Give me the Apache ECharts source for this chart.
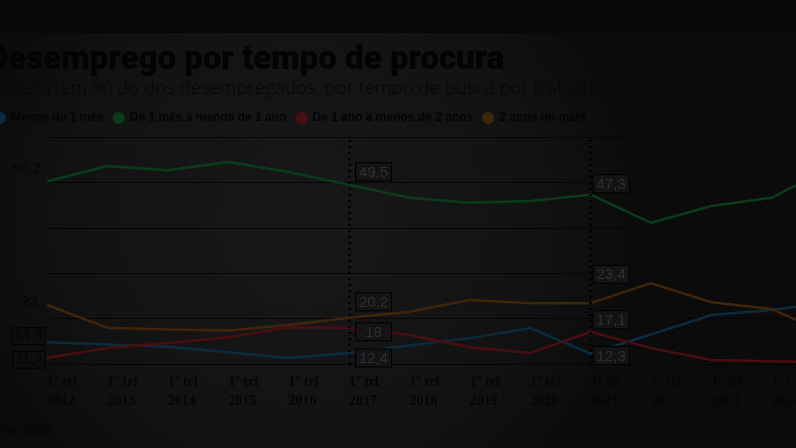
<!DOCTYPE html>
<html><head><meta charset="utf-8">
<script src="https://cdn.jsdelivr.net/npm/echarts@6/dist/echarts.min.js"></script>
<style>html,body{margin:0;padding:0;background:#121214}#c{width:796px;height:448px}</style>
</head><body><div id="c"></div>
<script>
// ---- data ----
const years = [2012, 2013, 2014, 2015, 2016, 2017, 2018, 2019, 2020, 2021, 2022, 2023, 2024, 2024.4];
const tickYears = [2012, 2013, 2014, 2015, 2016, 2017, 2018, 2019, 2020, 2021, 2022, 2023, 2024];
const seriesNames = ['Menos de 1 mês', 'De 1 mês a menos de 1 ano', 'De 1 ano a menos de 2 anos', '2 anos ou mais'];
const menos1mes   = [14.8, 14.3, 13.8, 12.6, 11.3, 12.4, 14.1, 15.7, 17.9, 12.3, 16.5, 20.8, 21.9, 22.6];
const de1mes1ano  = [50.2, 53.6, 52.7, 54.5, 52.3, 49.5, 46.6, 45.5, 45.9, 47.3, 41.1, 44.8, 46.6, 49.4];
const de1ano2anos = [11.4, 13.5, 14.6, 15.9, 18.1, 18.0, 16.4, 13.7, 12.4, 17.1, 13.5, 10.9, 10.6, 10.5];
const mais2anos   = [23.0, 18.0, 17.6, 17.4, 18.6, 20.2, 21.5, 24.1, 23.4, 23.4, 27.8, 23.6, 22.1, 19.7];
const highlightYears = [2017, 2021];
const title = 'Desemprego por tempo de procura';
const subtitle = 'Parcela (em %) do dos desempregados, por tempo de busca por trabalho';
const source = 'Fonte: IBGE';

const fmt = v => String(v).replace('.', ',');
const colors = ['#0c2b3c', '#0b3b1c', '#4a0e12', '#3f2509'];

// label placement (style) relative to the point: [dx, dy]
const hlPos = [
  [[7, 5], [3, 2]],
  [[7, -13], [3, -11]],
  [[7, 4], [3, -12]],
  [[7, -16], [3, -29]]
];
const startPos = [[-2, -6], [-4, -13], [-2, 2], [-7, -3]];
const startBoxed = [true, false, true, false];

function makeData(vals, si) {
  return vals.map((v, i) => {
    const item = { value: [years[i], v] };
    const hi = highlightYears.indexOf(years[i]);
    if (hi >= 0) {
      item.label = {
        show: true, position: hlPos[si][hi], align: 'left', verticalAlign: 'middle',
        formatter: '{a|' + fmt(v) + '}',
        borderColor: '#000', borderWidth: 1, backgroundColor: '#141416', padding: [2, 2, 0, 2],
        rich: { a: { width: 31, align: 'center', color: '#2f2f32', fontSize: 15, fontFamily: 'Liberation Sans' } }
      };
    } else if (i === 0) {
      item.label = {
        show: true, position: startPos[si], align: 'right', verticalAlign: 'middle',
        formatter: fmt(v), color: '#050505', fontSize: 15, fontFamily: 'Liberation Sans',
        borderColor: startBoxed[si] ? '#000' : 'transparent', borderWidth: 1,
        padding: [2, 2, 0, 2]
      };
    }
    return item;
  });
}

const allVals = [menos1mes, de1mes1ano, de1ano2anos, mais2anos];

const chart = echarts.init(document.getElementById('c'), null, { renderer: 'canvas' });
chart.setOption({
  backgroundColor: {
    type: 'radial', x: 0.38, y: 0.5, r: 0.75,
    colorStops: [{ offset: 0, color: '#18181a' }, { offset: 0.7, color: '#121213' }, { offset: 1, color: '#0b0b0b' }]
  },
  animation: false,
  graphic: [
    { type: 'rect', left: 0, top: 0, shape: { width: 796, height: 33 }, style: { fill: '#070707' }, z: -1 },
    { type: 'text', left: -13, top: 44, style: { text: title, font: '900 33px Roboto', fill: '#030303' } },
    { type: 'text', left: -11, top: 79, style: { text: subtitle, font: '300 18.7px "Open Sans"', fill: '#060606' } },
    { type: 'text', left: -17, top: 424, style: { text: source, font: '13px "Liberation Sans"', fill: '#050505' } }
  ],
  legend: {
    data: seriesNames, left: -11, top: 107, icon: 'circle', itemWidth: 12, itemHeight: 12, itemGap: 9,
    textStyle: { color: '#040404', fontSize: 12, fontWeight: 'bold', fontFamily: 'Liberation Sans' }
  },
  grid: { left: 47, right: 0, top: 137, bottom: 84, containLabel: false, outerBoundsMode: 'none' },
  xAxis: {
    type: 'value', min: 2012, max: 2024.4, interval: 1,
    axisLine: { show: false }, axisTick: { show: false }, splitLine: { show: false },
    axisLabel: {
      margin: 9, color: '#060606', fontSize: 14, fontWeight: 'bold', fontFamily: 'Liberation Serif',
      lineHeight: 19, align: 'left', textBorderWidth: 0,
      showMinLabel: true, showMaxLabel: false, hideOverlap: false,
      formatter: v => tickYears.indexOf(v) >= 0 ? '1º tri\n' + v : ''
    }
  },
  yAxis: {
    type: 'value', min: 10, max: 60, interval: 10,
    axisLine: { show: false }, axisTick: { show: false }, axisLabel: { show: false },
    splitLine: { lineStyle: { color: '#050505', width: 1 } }
  },
  series: allVals.map((vals, si) => ({
    name: seriesNames[si], type: 'line', data: makeData(vals, si),
    symbol: 'circle', symbolSize: 0.01, showSymbol: true, smooth: false, color: colors[si],
    lineStyle: { width: 2.5, color: colors[si] },
    labelLayout: { hideOverlap: false },
    markLine: si === 0 ? {
      silent: true, symbol: 'none', label: { show: false },
      lineStyle: { type: [2, 4], color: '#000', width: 2.5 },
      data: highlightYears.map(y => ({ xAxis: y }))
    } : undefined
  }))
});
</script></body></html>
